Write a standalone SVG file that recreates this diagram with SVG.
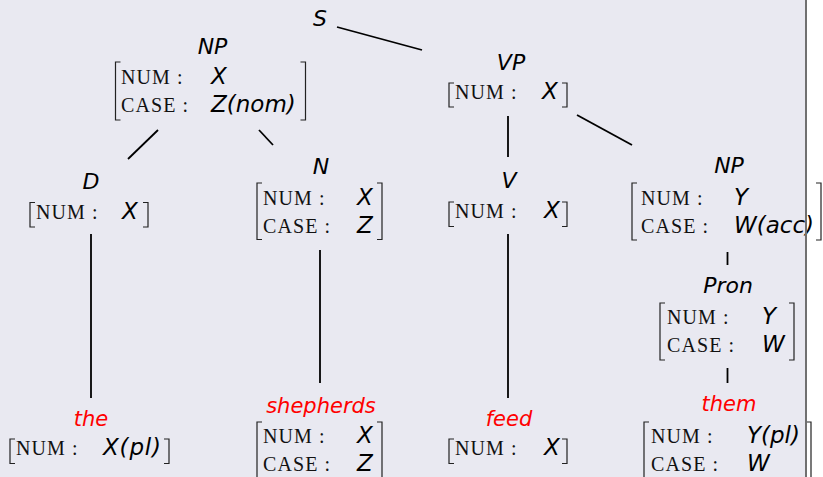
<svg xmlns="http://www.w3.org/2000/svg" width="823" height="477" viewBox="0 0 823 477">
<style>
.lbl{font-family:"DejaVu Sans",sans-serif;font-style:italic;font-size:22px;fill:#000;text-anchor:middle}
.word{font-family:"DejaVu Sans",sans-serif;font-style:italic;font-size:21px;fill:#ff0000;text-anchor:middle}
.key{font-family:"Liberation Serif",serif;font-size:20px;letter-spacing:1.1px;fill:#111}
.val{font-family:"DejaVu Sans",sans-serif;font-style:italic;font-size:23px;fill:#000}
.br{fill:none;stroke:#222;stroke-width:1.2}
.edge{stroke:#000;stroke-width:1.8;fill:none}
</style>
<rect x="0" y="0" width="806" height="477" fill="#e9e9f1"/>
<rect x="806" y="0" width="17" height="477" fill="#ffffff"/>

<g id="connectors">
<line class="edge" x1="337" y1="27" x2="422" y2="50"/>
<line class="edge" x1="158" y1="130" x2="128" y2="159"/>
<line class="edge" x1="259" y1="130" x2="273" y2="145"/>
<line class="edge" x1="508" y1="116" x2="508" y2="157"/>
<line class="edge" x1="577" y1="115" x2="632" y2="145"/>
<line class="edge" x1="91" y1="234" x2="91" y2="398"/>
<line class="edge" x1="320" y1="250" x2="320" y2="383"/>
<line class="edge" x1="508" y1="234" x2="508" y2="398"/>
<line class="edge" x1="727.5" y1="252" x2="727.5" y2="265"/>
<line class="edge" x1="727.5" y1="368" x2="727.5" y2="383"/>
</g>

<g id="S">
<text class="lbl" x="320" y="26">S</text>
</g>

<g id="NP-subj">
<text class="lbl" x="212.5" y="54">NP</text>
<path class="br" d="M120.5,62 H115.5 V120 H120.5"/>
<path class="br" d="M300.5,62 H305.5 V120 H300.5"/>
<text class="key" x="121" y="83.5">NUM :</text>
<text class="key" x="121" y="111.5">CASE :</text>
<text class="val" x="211" y="83.5">X</text>
<text class="val" x="211" y="111.5">Z(nom)</text>
</g>

<g id="VP">
<text class="lbl" x="511" y="70">VP</text>
<path class="br" d="M454,83 H449 V107 H454"/>
<path class="br" d="M562,83 H567 V107 H562"/>
<text class="key" x="455" y="99">NUM :</text>
<text class="val" x="542" y="99">X</text>
</g>

<g id="D">
<text class="lbl" x="91" y="189">D</text>
<path class="br" d="M35,202.5 H30 V227 H35"/>
<path class="br" d="M143,202.5 H148 V227 H143"/>
<text class="key" x="36" y="218.5">NUM :</text>
<text class="val" x="122" y="218.5">X</text>
</g>

<g id="N">
<text class="lbl" x="321" y="174">N</text>
<path class="br" d="M262,183 H257 V239.5 H262"/>
<path class="br" d="M377,183 H382 V239.5 H377"/>
<text class="key" x="263" y="204.5">NUM :</text>
<text class="key" x="263" y="232.5">CASE :</text>
<text class="val" x="357" y="204.5">X</text>
<text class="val" x="357" y="232.5">Z</text>
</g>

<g id="V">
<text class="lbl" x="509" y="188">V</text>
<path class="br" d="M454,202 H449 V226.5 H454"/>
<path class="br" d="M562,202 H567 V226.5 H562"/>
<text class="key" x="455" y="218">NUM :</text>
<text class="val" x="544" y="218">X</text>
</g>

<g id="NP-obj">
<text class="lbl" x="729" y="173">NP</text>
<path class="br" d="M637,183 H632 V240 H637"/>
<path class="br" d="M816,183 H821 V240 H816"/>
<text class="key" x="641" y="204.5">NUM :</text>
<text class="key" x="641" y="232.5">CASE :</text>
<text class="val" x="734" y="204.5">Y</text>
<text class="val" x="734" y="232.5">W(acc)</text>
</g>

<g id="Pron">
<text class="lbl" x="728" y="293">Pron</text>
<path class="br" d="M665,303 H660 V360 H665"/>
<path class="br" d="M789,303 H794 V360 H789"/>
<text class="key" x="667" y="324">NUM :</text>
<text class="key" x="667" y="352">CASE :</text>
<text class="val" x="762" y="324">Y</text>
<text class="val" x="762" y="352">W</text>
</g>

<g id="the">
<text class="word" x="91" y="426">the</text>
<path class="br" d="M15,439 H10 V463.5 H15"/>
<path class="br" d="M164,439 H169 V463.5 H164"/>
<text class="key" x="16" y="455">NUM :</text>
<text class="val" x="103" y="455" textLength="58" lengthAdjust="spacing">X(pl)</text>
</g>

<g id="shepherds">
<text class="word" x="321" y="413">shepherds</text>
<path class="br" d="M262,422 H257 V479 H262"/>
<path class="br" d="M377,422 H382 V479 H377"/>
<text class="key" x="263" y="443">NUM :</text>
<text class="key" x="263" y="471">CASE :</text>
<text class="val" x="357" y="443">X</text>
<text class="val" x="357" y="471">Z</text>
</g>

<g id="feed">
<text class="word" x="509" y="426">feed</text>
<path class="br" d="M454,439 H449 V463.5 H454"/>
<path class="br" d="M562,439 H567 V463.5 H562"/>
<text class="key" x="455" y="455">NUM :</text>
<text class="val" x="544" y="455">X</text>
</g>

<g id="them">
<text class="word" x="729" y="411">them</text>
<path class="br" d="M649,422 H644 V479 H649"/>
<path class="br" d="M806,422 H811 V479 H806"/>
<text class="key" x="651" y="443">NUM :</text>
<text class="key" x="651" y="471">CASE :</text>
<text class="val" x="747" y="443">Y(pl)</text>
<text class="val" x="747" y="471">W</text>
</g>

<line x1="806" y1="0" x2="806" y2="477" stroke="#707070" stroke-width="2"/>
</svg>
